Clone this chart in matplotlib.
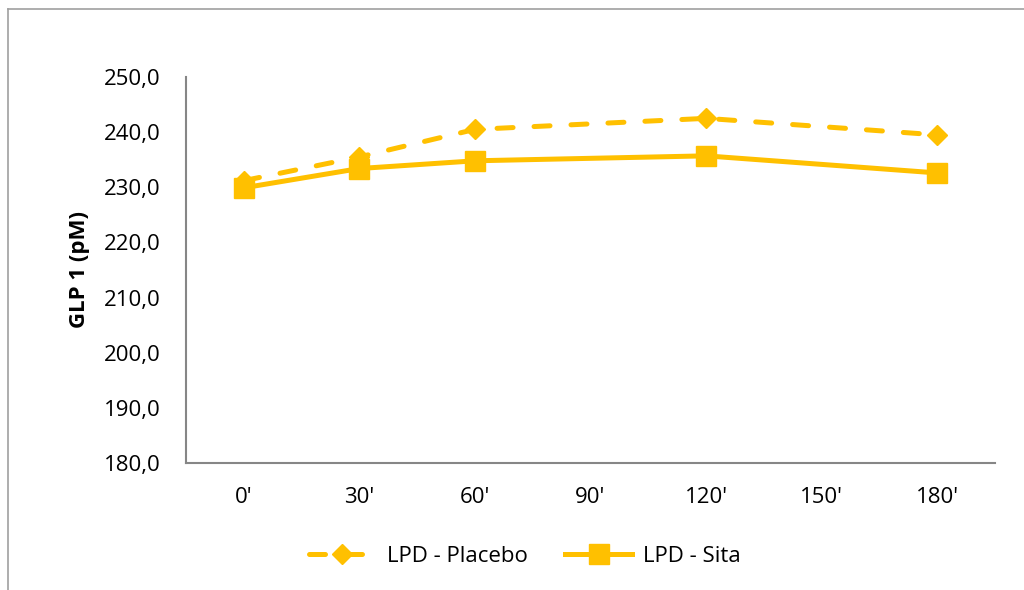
import matplotlib
matplotlib.use("Agg")
import matplotlib.pyplot as plt
from matplotlib.lines import Line2D

# categories on the x axis (90' and 150' have no measurement)
categories = ["0'", "30'", "60'", "90'", "120'", "150'", "180'"]
time_idx = [0, 1, 2, 4, 6]
placebo = [231.2, 235.5, 240.5, 242.5, 239.5]
sita = [229.9, 233.4, 234.8, 235.7, 232.6]
y_ticks = [180, 190, 200, 210, 220, 230, 240, 250]

YELLOW = "#FFC000"
GRAY = "#868686"

plt.rcParams["font.family"] = ["Open Sans", "DejaVu Sans"]

fig = plt.figure(figsize=(10.24, 5.9), dpi=100)
ax = fig.add_axes([0.1816, 0.2153, 0.9717 - 0.1816, 0.8695 - 0.2153])

ax.plot(time_idx, placebo, color=YELLOW, lw=3.6, ls=(0, (3.2, 4.2)),
        dash_capstyle="round", marker="D", markersize=10.2,
        label="LPD - Placebo", zorder=3)
ax.plot(time_idx, sita, color=YELLOW, lw=3.6, marker="s", markersize=14.4,
        label="LPD - Sita", zorder=4)

ax.set_xlim(-0.5, len(categories) - 0.5)
ax.set_ylim(180, 250)
ax.set_xticks(range(len(categories)))
ax.set_xticklabels(categories)
ax.set_yticks(y_ticks)
ax.set_yticklabels([f"{v:.1f}".replace(".", ",") for v in y_ticks])
ax.tick_params(length=0, labelsize=16, colors="black")
ax.tick_params(axis="x", pad=17)
ax.tick_params(axis="y", pad=18)

for side in ("top", "right"):
    ax.spines[side].set_visible(False)
for side in ("left", "bottom"):
    ax.spines[side].set_color(GRAY)
    ax.spines[side].set_linewidth(1.5)

ax.set_ylabel("GLP 1 (pM)", fontsize=16, fontweight="bold", labelpad=10)

# chart frame (only left and top edges are in the picture)
fig.add_artist(Line2D([8 / 1024, 8 / 1024], [0, 1 - 9 / 590],
                      transform=fig.transFigure, color="#A0A0A0", lw=1.2))
fig.add_artist(Line2D([8 / 1024, 1], [1 - 9 / 590, 1 - 9 / 590],
                      transform=fig.transFigure, color="#A0A0A0", lw=1.2))

fig.legend(loc="center", bbox_to_anchor=(525 / 1024, 1 - 556 / 590), ncol=2,
           frameon=False, fontsize=16, handlelength=3.0, handletextpad=0.5,
           columnspacing=1.7)

fig.savefig("out.png", dpi=100)
